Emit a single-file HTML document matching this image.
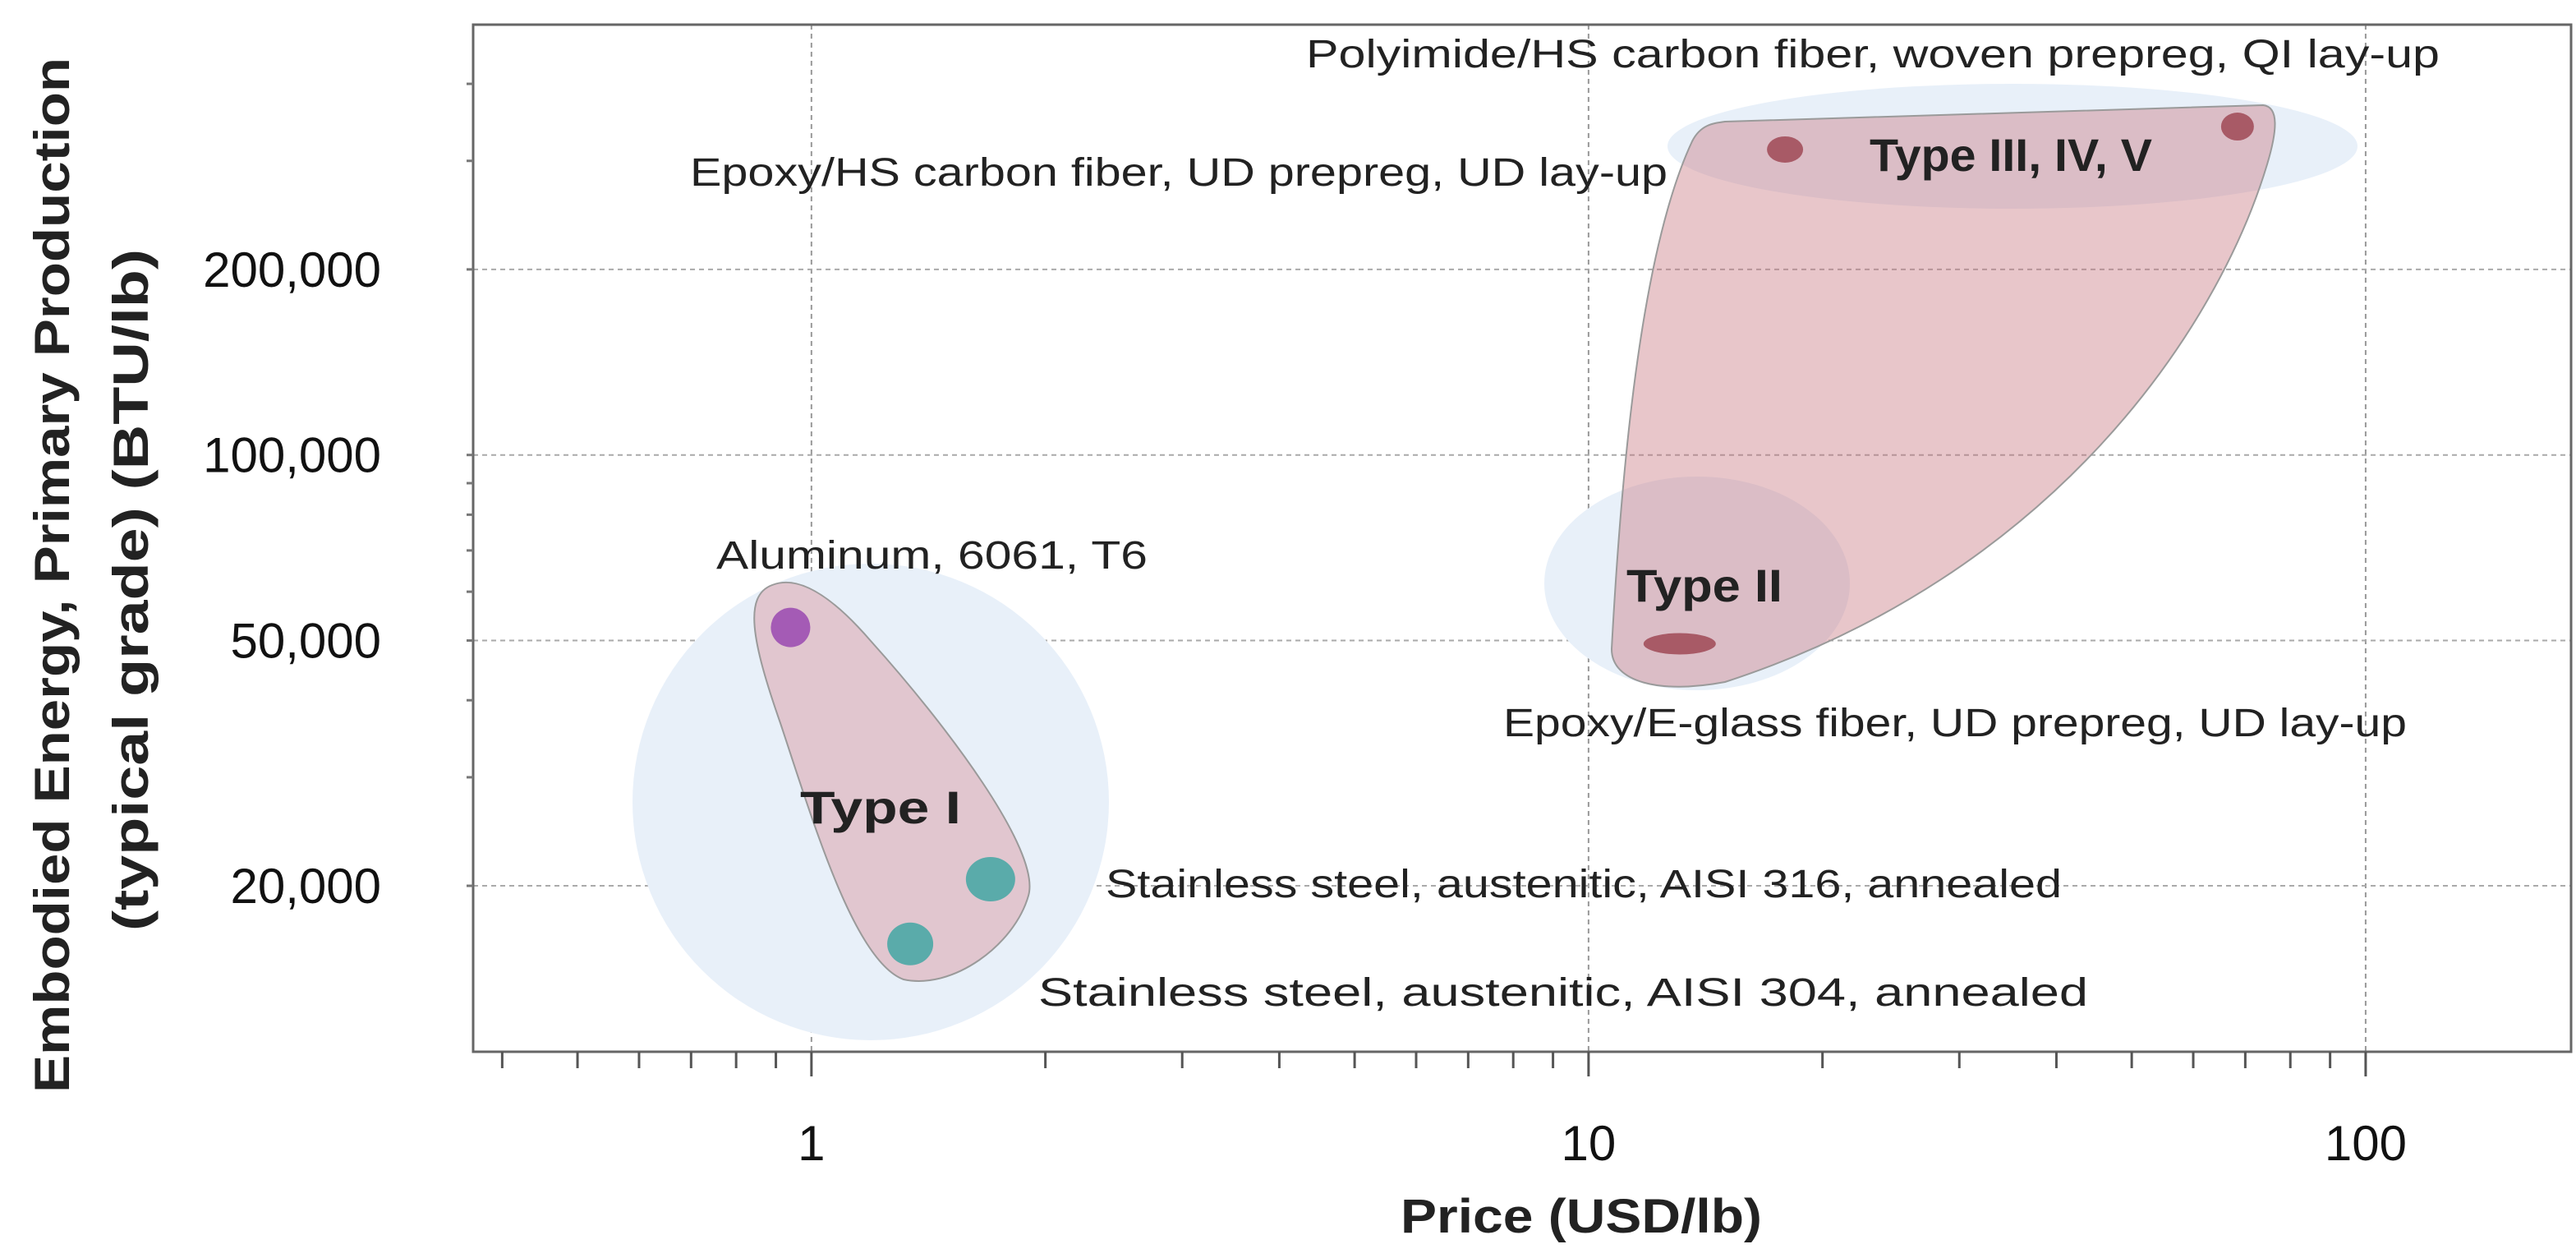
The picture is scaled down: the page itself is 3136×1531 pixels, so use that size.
<!DOCTYPE html>
<html><head><meta charset="utf-8"><style>
html,body{margin:0;padding:0;background:#fff;}
svg{display:block;}
text{font-family:"Liberation Sans",sans-serif;}
</style></head>
<body>
<svg id="chart" width="3136" height="1531" viewBox="0 0 3136 1531" xmlns="http://www.w3.org/2000/svg">
  <rect x="0" y="0" width="3136" height="1531" fill="#fff"/>
  <g id="grid"></g>
  <g id="regions"></g>
  <g id="points"></g>
  <g id="labels"></g>
  <g id="axes"></g>
  <text x="1925" y="1500" text-anchor="middle" font-size="58" font-weight="bold" fill="#222" textLength="440" lengthAdjust="spacingAndGlyphs">Price (USD/lb)</text>
  <text transform="translate(84,700) rotate(-90)" text-anchor="middle" font-size="60" font-weight="bold" fill="#222" textLength="1260" lengthAdjust="spacingAndGlyphs">Embodied Energy, Primary Production</text>
  <text transform="translate(180,718) rotate(-90)" text-anchor="middle" font-size="60" font-weight="bold" fill="#222" textLength="830" lengthAdjust="spacingAndGlyphs">(typical grade) (BTU/lb)</text>
</svg>
<script>
const xTickVals = [1, 10, 100];
const xTickLabels = ["1", "10", "100"];
const yTickVals = [20000, 50000, 100000, 200000];
const yTickLabels = ["20,000", "50,000", "100,000", "200,000"];
const pointNames = ["Aluminum, 6061, T6", "Stainless steel, austenitic, AISI 316, annealed", "Stainless steel, austenitic, AISI 304, annealed", "Epoxy/E-glass fiber, UD prepreg, UD lay-up", "Epoxy/HS carbon fiber, UD prepreg, UD lay-up", "Polyimide/HS carbon fiber, woven prepreg, QI lay-up"];
const pointPrice = [0.94, 1.70, 1.34, 13.1, 17.9, 68.4];
const pointEnergy = [52500, 20500, 16100, 49400, 313000, 341000];

const NS = "http://www.w3.org/2000/svg";
const L = 576, R = 3130, T = 30, B = 1280;
const xMin = 0.367, xMax = 183.8, yMin = 10760, yMax = 499000;
function xs(v){ return L + (Math.log10(v) - Math.log10(xMin)) / (Math.log10(xMax) - Math.log10(xMin)) * (R - L); }
function ys(v){ return B - (Math.log10(v) - Math.log10(yMin)) / (Math.log10(yMax) - Math.log10(yMin)) * (B - T); }
function mk(tag, attrs, parent){ const e = document.createElementNS(NS, tag); for (const k in attrs) e.setAttribute(k, attrs[k]); parent.appendChild(e); return e; }

const grid = document.getElementById('grid');
xTickVals.forEach((v, i) => {
  const l = mk('line', {x1: xs(v), x2: xs(v), y1: T, y2: B, stroke: '#999', 'stroke-width': 2, 'stroke-dasharray': '6,5'}, grid);
  
  
});
yTickVals.forEach((v, i) => {
  const l = mk('line', {x1: L, x2: R, y1: ys(v), y2: ys(v), stroke: '#aaa', 'stroke-width': 2, 'stroke-dasharray': '6,5'}, grid);
  
  
});

const reg = document.getElementById('regions');
const r1 = mk('circle', {cx: 1060, cy: 976, r: 290, fill: '#e8f0f9'}, reg);


const r2 = mk('ellipse', {cx: 2066, cy: 710, rx: 186, ry: 130, fill: '#e8f0f9'}, reg);


const r3 = mk('ellipse', {cx: 2450, cy: 178, rx: 420, ry: 76, fill: '#e8f0f9'}, reg);


const b1 = mk('path', {d: 'M 940,712 C 905,725 915,780 950,880 C 990,1000 1040,1170 1100,1192 C 1160,1205 1235,1150 1252,1090 C 1268,1035 1150,880 1060,780 C 1010,722 970,700 940,712 Z', fill: 'rgba(215,140,150,0.42)', stroke: '#9a9a9a', 'stroke-width': 2}, reg);


const b2 = mk('path', {d: 'M 2100,148 L 2755,128 C 2775,130 2772,160 2760,200 C 2700,400 2500,700 2100,830 C 2020,845 1962,830 1962,790 C 1975,550 2000,300 2060,172 C 2070,152 2085,150 2100,148 Z', fill: 'rgba(200,120,128,0.42)', stroke: '#9a9a9a', 'stroke-width': 2}, reg);



const tl = [['Type I', 974, 1002, 196], ['Type II', 1980, 732, 190], ['Type III, IV, V', 2276, 208, 344]];
tl.forEach(t => {
  const e = mk('text', {x: t[1], y: t[2], 'font-size': 56, 'font-weight': 'bold', fill: '#222', textLength: t[3], lengthAdjust: 'spacingAndGlyphs'}, reg);
  e.textContent = t[0];
  
  
});

const pts = document.getElementById('points');
const colors = ['#a45bb5', '#5aabaa', '#5aabaa', '#a85a66', '#a85a66', '#a85a66'];
const rx = [24, 30, 28, 44, 22, 20];
const ry = [24, 27, 26, 13, 16, 17];
pointPrice.forEach((p, i) => {
  const e = mk('ellipse', {cx: xs(p), cy: ys(pointEnergy[i]), rx: rx[i], ry: ry[i], fill: colors[i]}, pts);
  
  
});

const lab = document.getElementById('labels');
const lpos = [[872, 692, 525], [1346, 1092, 1164], [1264, 1224, 1278], [1830, 896, 1100], [840, 226, 1190], [1590, 82, 1380]];
pointNames.forEach((n, i) => {
  const e = mk('text', {x: lpos[i][0], y: lpos[i][1], 'font-size': 48, fill: '#222', textLength: lpos[i][2], lengthAdjust: 'spacingAndGlyphs'}, lab);
  e.textContent = n;
  
  
});

const ax = document.getElementById('axes');
const fr = mk('rect', {x: L, y: T, width: R - L, height: B - T, fill: 'none', stroke: '#666', 'stroke-width': 3}, ax);


for (let d = -1; d <= 2; d++) {
  for (let m = 1; m <= 9; m++) {
    const v = m * Math.pow(10, d);
    if (v < xMin || v > xMax) continue;
    const major = m === 1;
    const e = mk('line', {x1: xs(v), x2: xs(v), y1: B, y2: B + (major ? 30 : 20), stroke: '#555', 'stroke-width': 3}, ax);
    
    
  }
}
for (let d = 4; d <= 5; d++) {
  for (let m = 1; m <= 9; m++) {
    const v = m * Math.pow(10, d);
    if (v < yMin || v > yMax) continue;
    const e = mk('line', {x1: L - 8, x2: L, y1: ys(v), y2: ys(v), stroke: '#777', 'stroke-width': 3}, ax);
    
    
  }
}
xTickVals.forEach((v, i) => {
  const e = mk('text', {x: xs(v), y: 1412, 'text-anchor': 'middle', 'font-size': 60, fill: '#111'}, ax);
  e.textContent = xTickLabels[i];
  
  
});
yTickVals.forEach((v, i) => {
  const e = mk('text', {x: 464, y: ys(v) + 21, 'text-anchor': 'end', 'font-size': 60, fill: '#111'}, ax);
  e.textContent = yTickLabels[i];
  
  
});
</script>
</body></html>
